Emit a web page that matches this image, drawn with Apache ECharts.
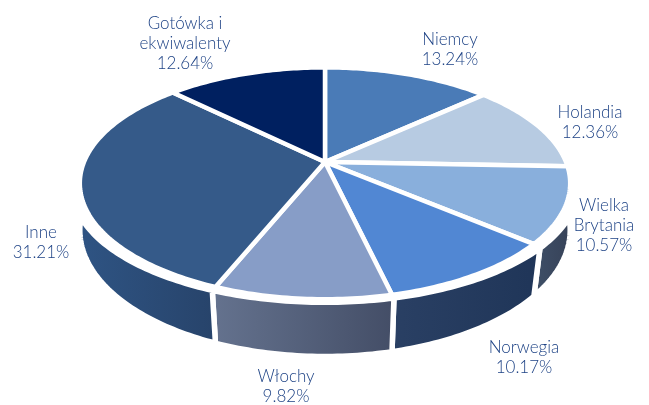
<!DOCTYPE html>
<html>
<head>
<meta charset="utf-8">
<script src="https://cdn.jsdelivr.net/npm/echarts@6/dist/echarts.min.js"></script>
<style>
  html, body { margin: 0; padding: 0; background: #fff; }
  #chart { width: 649px; height: 405px; }
</style>
</head>
<body>
<div id="chart"></div>
<script>
const categories = ['Niemcy', 'Holandia', 'Wielka\nBrytania', 'Norwegia', 'Włochy', 'Inne', 'Gotówka i\nekwiwalenty']
const shares = [13.24, 12.36, 10.57, 10.17, 9.82, 31.21, 12.64]

// styles, same order as categories
const topColors = ['#4a7bb7', '#b7cbe2', '#89afdc', '#5187d3', '#879dc7', '#355a89', '#002060']
const wallColors = [null, null, ['#3f5068', '#353f55'], ['#2a4064', '#1f3558'], ['#65738f', '#434d66'], ['#2f5585', '#27436a'], null]
const labelAnchors = [[450, 50], [590, 123], [604, 226], [524, 358], [286, 387], [41, 243], [185, 44]]

// perspective disc: a, b = half axes, y0 = where the centre lands, k = tilt
const CENTER_X = 325
const TOP_FACE = { a: 241, b: 112, y0: 162, k: 0.184 }
const WALL_TOP = { a: 248, b: 110, y0: 167.5, k: 0.184 }
const WALL_BOTTOM = { a: 241, b: 122, y0: 207, k: 0.184 }
// angles (deg) where the side wall runs out at both ends of the disc
const WALL_TIP_RIGHT = 104
const WALL_TIP_LEFT = 256
const WALL_BOTTOM_RIGHT = 94
const WALL_BOTTOM_LEFT = 266

const total = shares.reduce((s, v) => s + v, 0)

function project(disc, deg) {
  const t = deg * Math.PI / 180
  const u = Math.sin(t)
  const v = -Math.cos(t)
  const d = 1 - disc.k * v
  return [CENTER_X + disc.a * u / d, disc.y0 + disc.b * v / d]
}

function arc(disc, from, to) {
  const pts = []
  const n = Math.max(2, Math.ceil(Math.abs(to - from)))
  for (let i = 0; i <= n; i++) {
    pts.push(project(disc, from + (to - from) * i / n))
  }
  return pts
}

function renderSlice(params, api) {
  const i = params.dataIndex
  const before = shares.slice(0, i).reduce((s, v) => s + v, 0)
  const start = before / total * 360
  const end = start + api.value(0) / total * 360
  const children = []

  const wall = wallColors[i]
  if (wall) {
    const topFrom = Math.max(start, WALL_TIP_RIGHT)
    const topTo = Math.min(end, WALL_TIP_LEFT)
    const botFrom = start < WALL_TIP_RIGHT ? WALL_BOTTOM_RIGHT : start
    const botTo = end > WALL_TIP_LEFT ? WALL_BOTTOM_LEFT : end
    children.push({
      type: 'polygon',
      shape: { points: arc(WALL_TOP, topFrom, topTo).concat(arc(WALL_BOTTOM, botTo, botFrom)) },
      style: {
        fill: new echarts.graphic.LinearGradient(0, 0, 1, 0, [
          { offset: 0, color: wall[0] },
          { offset: 1, color: wall[1] }
        ]),
        stroke: '#fff',
        lineWidth: 5.5
      }
    })
  }

  children.push({
    type: 'polygon',
    shape: { points: [[CENTER_X, TOP_FACE.y0]].concat(arc(TOP_FACE, start, end)) },
    style: { fill: topColors[i], stroke: '#fff', lineWidth: 4.5, lineJoin: 'round' }
  })

  const lines = categories[i] + '\n' + api.value(0).toFixed(2) + '%'
  children.push({
    type: 'text',
    x: labelAnchors[i][0],
    y: labelAnchors[i][1],
    z2: 10,
    style: {
      text: lines,
      fill: '#1d4285',
      font: '300 17px Lato, "Open Sans", sans-serif',
      lineHeight: 20,
      align: 'center',
      verticalAlign: 'middle'
    }
  })

  return { type: 'group', children }
}

const chart = echarts.init(document.getElementById('chart'))
chart.setOption({
  animation: false,
  backgroundColor: '#fff',
  series: [{
    type: 'custom',
    coordinateSystem: 'none',
    silent: true,
    renderItem: renderSlice,
    data: shares.map(v => [v])
  }]
})
</script>
</body>
</html>
